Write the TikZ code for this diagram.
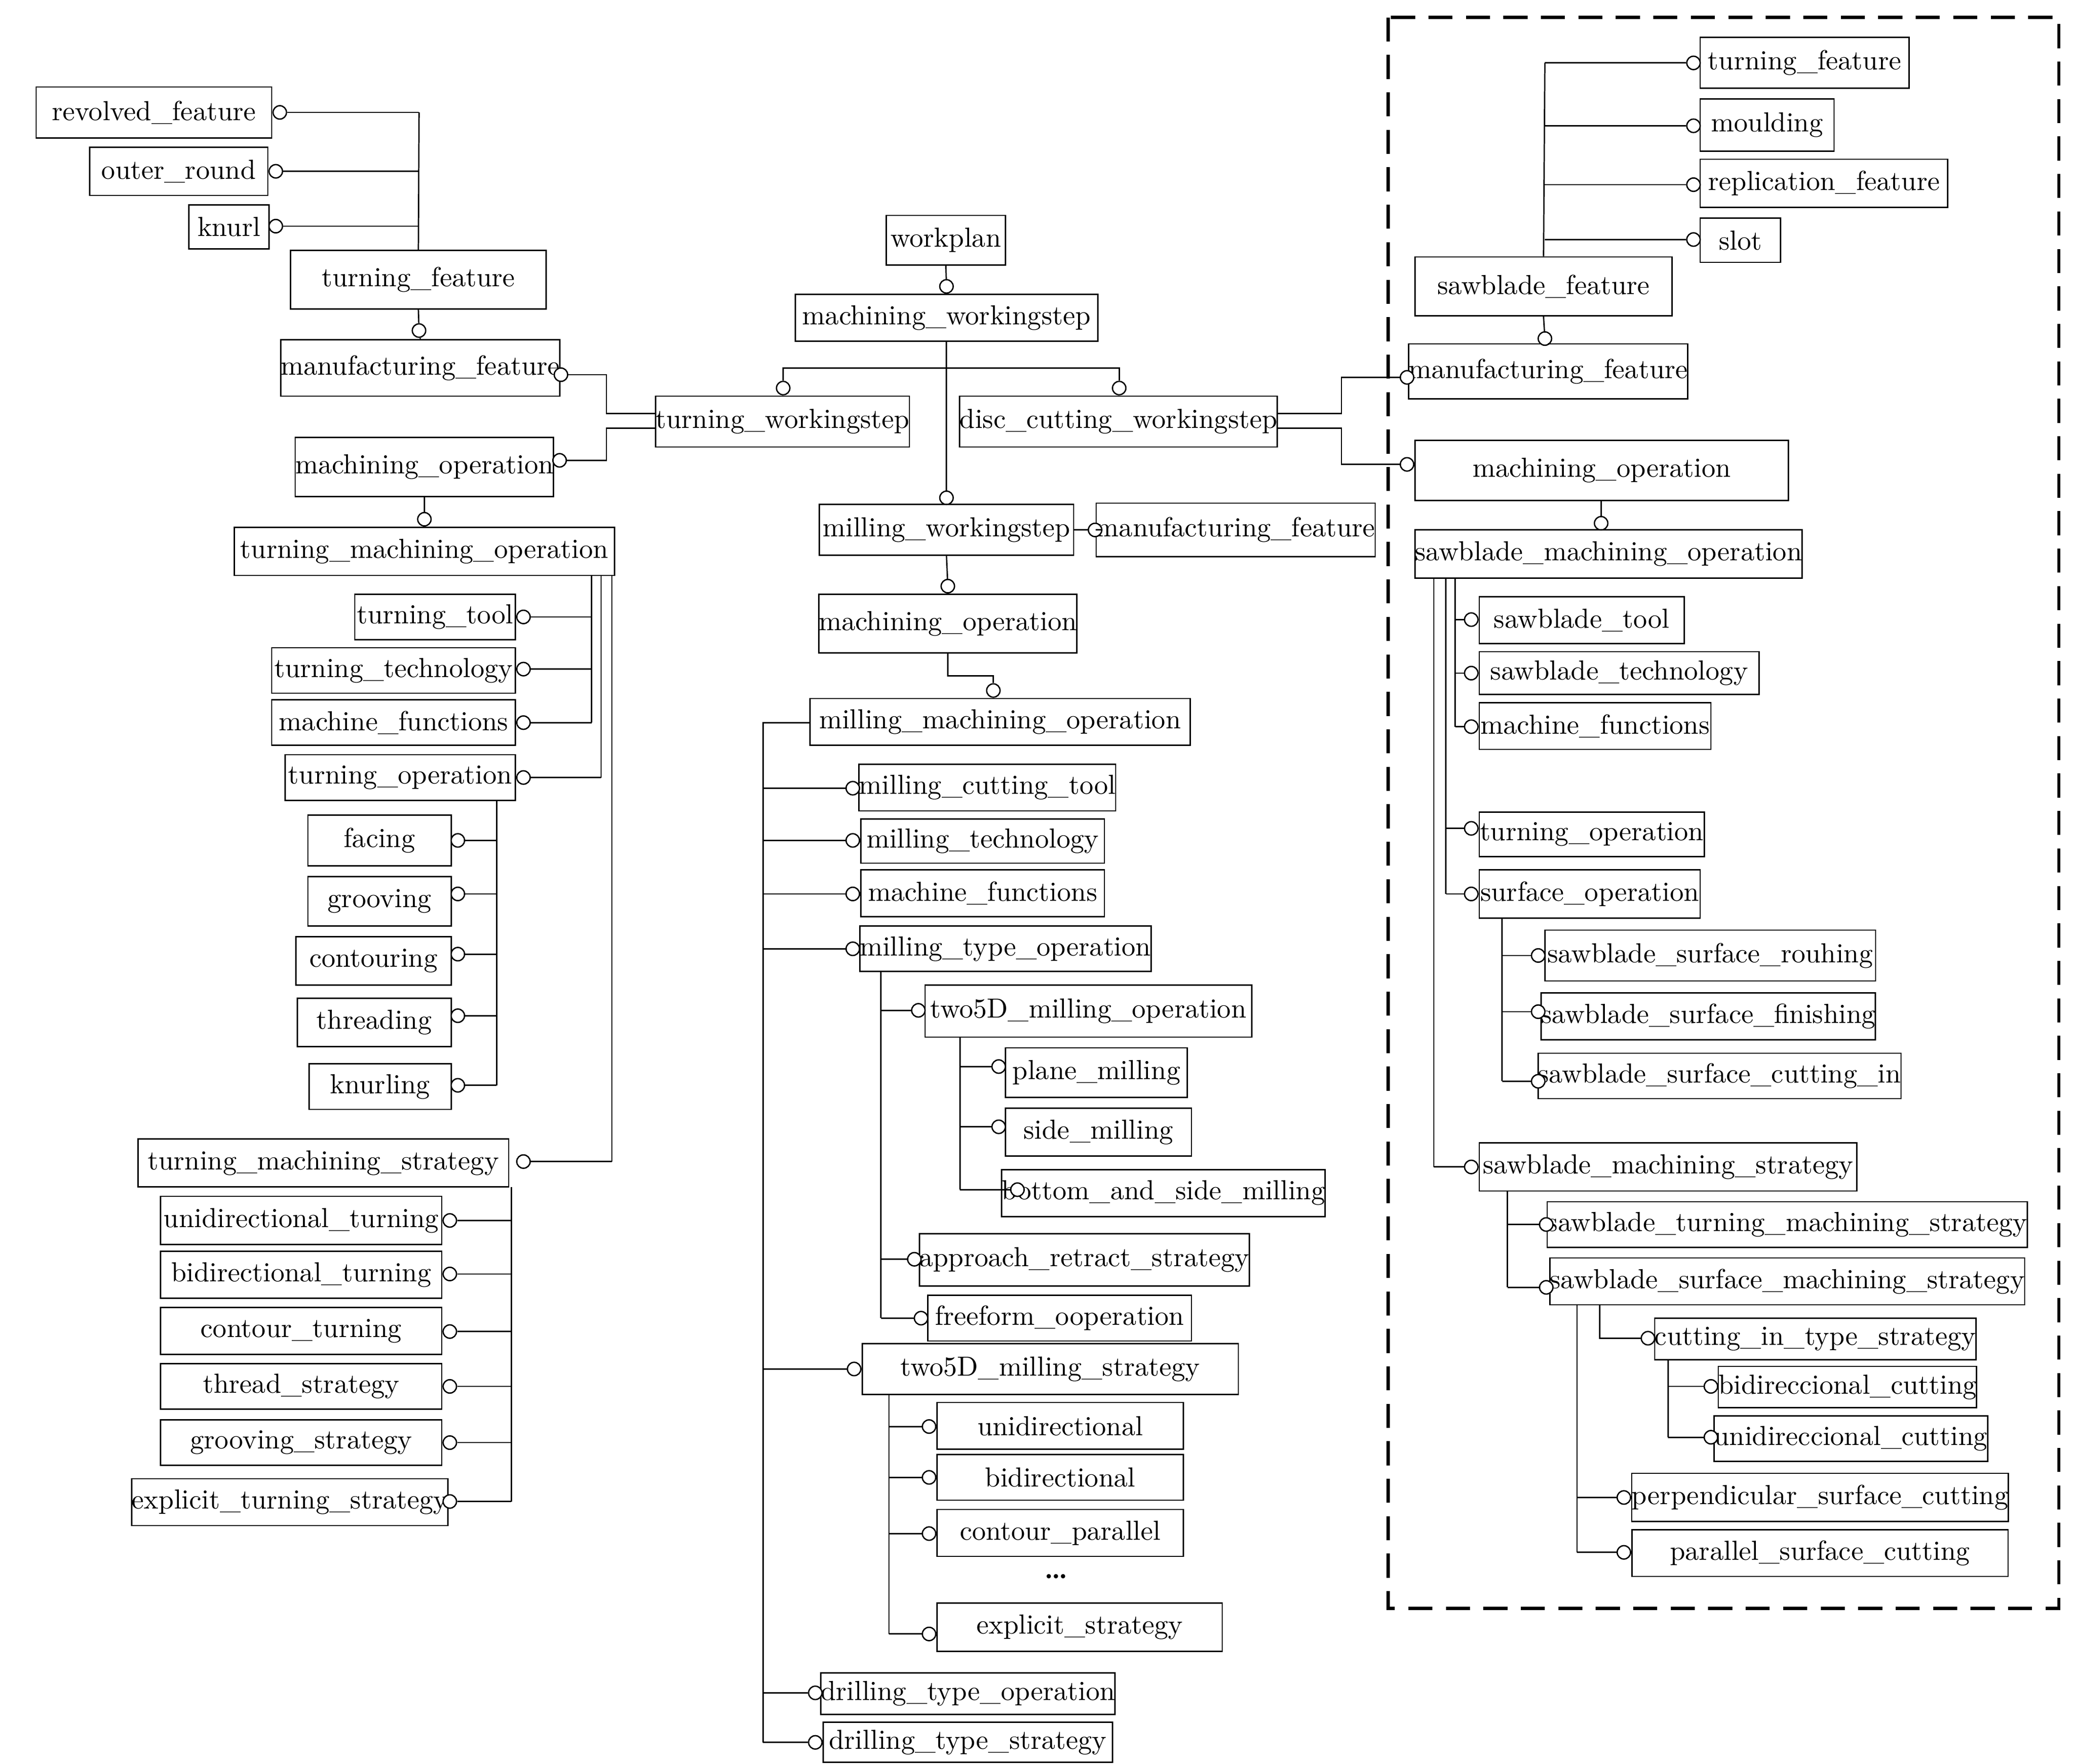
\documentclass[tikz,border=0pt]{standalone}
\begin{document}
\fontsize{10.3}{12}\selectfont
\begin{tikzpicture}[x=0.5pt,y=-0.5pt,
 box/.style={draw,line width=0.5pt,inner sep=0pt,font=\fontsize{10.3}{12}\selectfont},
 cir/.style={circle,draw,line width=0.5pt,fill=white,inner sep=0pt,minimum size=5pt},
 every path/.style={line width=0.5pt}]
\newcommand\bx[6]{\node[box,minimum width={(#3-#2)*0.5pt},minimum height={(#5-#4)*0.5pt}] (#1) at ({(#2+#3)/2},{(#4+#5)/2}) {#6};}
\newcommand\ci[3]{\node[cir] (#1) at (#2,#3) {};}
\useasboundingbox (0,0) rectangle (1550,1318);
% ---------- left
\bx{rev}{27}{203}{65}{103}{revolved\_feature}
\bx{outr}{67}{200}{110}{146}{outer\_round}
\bx{knurl}{141}{201}{153}{186}{knurl}
\bx{tfL}{217}{408}{187}{231}{turning\_feature}
\bx{mfL}{215}{413}{254}{296}{manufacturing\_feature}
\bx{moL}{222}{412}{327}{371}{machining\_operation}
\bx{tws}{490}{679}{296}{334}{turning\_workingstep}
\bx{tmo}{175}{459}{394}{430}{turning\_machining\_operation}
\bx{ttool}{265}{385}{444}{478}{turning\_tool}
\bx{ttech}{203}{385}{484}{518}{turning\_technology}
\bx{mfnL}{203}{385}{523}{557}{machine\_functions}
\bx{top}{213}{385}{564}{598}{turning\_operation}
\bx{fac}{230}{337}{609}{647}{facing}
\bx{gro}{230}{337}{655}{692}{grooving}
\bx{con}{221}{337}{700}{736}{contouring}
\bx{thr}{222}{337}{746}{782}{threading}
\bx{knu}{231}{337}{795}{829}{knurling}
\bx{tms}{103}{380}{851}{887}{turning\_machining\_strategy}
\bx{ut}{120}{330}{894}{930}{unidirectional\_turning}
\bx{bt}{120}{330}{935}{970}{bidirectional\_turning}
\bx{ct}{120}{330}{977}{1012}{contour\_turning}
\bx{ts}{120}{330}{1019}{1053}{thread\_strategy}
\bx{gs}{120}{330}{1061}{1095}{grooving\_strategy}
\bx{ets}{103}{330}{1105}{1140}{explicit\_turning\_strategy}
\ci{cRev}{209}{84}\ci{cOut}{206}{128}\ci{cKn}{206}{169}\ci{cTF}{313}{247}
\ci{cMfL}{419}{280}\ci{cMoL}{418}{344}\ci{cTmo}{317}{388}
\ci{cTt}{391}{461}\ci{cTte}{391}{500}\ci{cMfn}{391}{540}\ci{cTop}{391}{581}
\ci{cFac}{342}{628}\ci{cGro}{342}{668}\ci{cCon}{342}{713}\ci{cThr}{342}{759}\ci{cKnu}{342}{811}
\ci{cTms}{391}{868}
\ci{cUt}{336}{912}\ci{cBt}{336}{952}\ci{cCt}{336}{995}\ci{cTs}{336}{1036}\ci{cGs}{336}{1078}\ci{cEts}{336}{1122}
\draw (313,84) -- (tfL.north);
\draw (cRev) -- (313,84); \draw (cOut) -- (313,128); \draw (cKn) -- (313,169);
\draw (tfL.south) -- (cTF) -- (mfL.north);
\draw (cMfL) -- (453,280) -- (453,309) -- (tws.west|-0,309);
\draw (cMoL) -- (453,344) -- (453,320) -- (tws.west|-0,320);
\draw (moL.south) -- (cTmo) -- (tmo.north);
\draw (442,430) -- (442,540); \draw (449,430) -- (449,581); \draw (457,430) -- (457,868);
\draw (cTt) -- (442,461); \draw (cTte) -- (442,500); \draw (cMfn) -- (442,540); \draw (cTop) -- (449,581);
\draw (371,598) -- (371,811);
\foreach \c/\y in {cFac/628,cGro/668,cCon/713,cThr/759,cKnu/811} \draw (\c) -- (371,\y);
\draw (cTms) -- (457,868);
\draw (382,887) -- (382,1122);
\foreach \c/\y in {cUt/912,cBt/952,cCt/995,cTs/1036,cGs/1078,cEts/1122} \draw (\c) -- (382,\y);
% ---------- middle
\bx{wp}{662}{751}{161}{198}{workplan}
\bx{mws}{594}{820}{220}{255}{machining\_workingstep}
\bx{dcw}{724}{947}{296}{334}{disc\_cutting\_workingstep}
\bx{mlw}{612}{802}{377}{415}{milling\_workingstep}
\bx{mfM}{823}{1023}{376}{416}{manufacturing\_feature}
\bx{moM}{612}{804}{444}{488}{machining\_operation}
\bx{mmo}{605}{889}{522}{557}{milling\_machining\_operation}
\bx{mct}{643}{832}{571}{606}{milling\_cutting\_tool}
\bx{mte}{643}{825}{612}{645}{milling\_technology}
\bx{mfnM}{643}{825}{650}{685}{machine\_functions}
\bx{mto}{643}{859}{692}{726}{milling\_type\_operation}
\bx{t5o}{691}{935}{736}{775}{two5D\_milling\_operation}
\bx{pm}{751}{887}{783}{820}{plane\_milling}
\bx{sm}{751}{890}{828}{864}{side\_milling}
\bx{bsm}{753}{985}{874}{909}{bottom\_and\_side\_milling}
\bx{ars}{688}{932}{922}{961}{approach\_retract\_strategy}
\bx{ffo}{693}{890}{968}{1002}{freeform\_ooperation}
\bx{t5s}{644}{925}{1004}{1042}{two5D\_milling\_strategy}
\bx{uni}{700}{884}{1048}{1083}{unidirectional}
\bx{bid}{700}{884}{1087}{1121}{bidirectional}
\bx{cpa}{700}{884}{1128}{1163}{contour\_parallel}
\node (dots) at (789,1178) {\textbf{\dots}};
\bx{exs}{700}{913}{1198}{1234}{explicit\_strategy}
\bx{dto}{615}{831}{1250}{1281}{drilling\_type\_operation}
\bx{dts}{615}{831}{1287}{1317}{drilling\_type\_strategy}
\ci{cWp}{707}{214}\ci{cTws}{585}{290}\ci{cDcw}{836}{290}\ci{cMlw}{707}{372}
\ci{cMfM}{818}{396}\ci{cMoM}{708}{438}\ci{cMmo}{742}{516}
\ci{cMct}{637}{589}\ci{cMte}{637}{628}\ci{cMfnM}{637}{668}\ci{cMto}{637}{709}
\ci{cT5o}{686}{755}\ci{cPm}{746}{797}\ci{cSm}{746}{842}\ci{cBsm}{760}{889}
\ci{cArs}{683}{941}\ci{cFfo}{688}{985}\ci{cT5s}{638}{1023}
\ci{cUni}{694}{1066}\ci{cBid}{694}{1104}\ci{cCpa}{694}{1146}\ci{cExs}{694}{1221}
\ci{cDto}{609}{1265}\ci{cDts}{609}{1302}
\draw (wp.south) -- (cWp) -- (mws.north);
\draw (707,255) -- (cMlw) -- (mlw.north);
\draw (cTws) -- (585,275) -- (836,275) -- (cDcw);
\draw (cTws) -- (tws.north); \draw (cDcw) -- (dcw.north);
\draw (mlw.east) -- (cMfM) -- (mfM.west);
\draw (mlw.south) -- (cMoM) -- (moM.north);
\draw (708,488) -- (708,505) -- (742,505) -- (cMmo);
\draw (605,540) -- (570,540) -- (570,1302);
\foreach \c/\y in {cMct/589,cMte/628,cMfnM/668,cMto/709,cT5s/1023,cDto/1265,cDts/1302} \draw (\c) -- (570,\y);
\draw (658,726) -- (658,985);
\foreach \c/\y in {cT5o/755,cArs/941,cFfo/985} \draw (\c) -- (658,\y);
\draw (717,775) -- (717,889);
\foreach \c/\y in {cPm/797,cSm/842,cBsm/889} \draw (\c) -- (717,\y);
\draw (664,1042) -- (664,1221);
\foreach \c/\y in {cUni/1066,cBid/1104,cCpa/1146,cExs/1221} \draw (\c) -- (664,\y);
% ---------- right
\draw[line width=1.2pt,dash pattern=on 9pt off 5pt] (1037,13) rectangle (1538,1202);
\bx{tfR}{1270}{1426}{28}{66}{turning\_feature}
\bx{mou}{1270}{1370}{74}{113}{moulding}
\bx{rep}{1270}{1455}{119}{155}{replication\_feature}
\bx{slot}{1270}{1330}{163}{196}{slot}
\bx{sbf}{1057}{1249}{192}{236}{sawblade\_feature}
\bx{mfR}{1057}{1256}{257}{298}{manufacturing\_feature}
\bx{moR}{1057}{1336}{329}{374}{machining\_operation}
\bx{smo}{1059}{1344}{396}{432}{sawblade\_machining\_operation}
\bx{st}{1105}{1258}{446}{481}{sawblade\_tool}
\bx{ste}{1105}{1314}{487}{519}{sawblade\_technology}
\bx{mfnR}{1105}{1278}{525}{560}{machine\_functions}
\bx{toR}{1105}{1273}{607}{640}{turning\_operation}
\bx{so}{1105}{1270}{650}{686}{surface\_operation}
\bx{ssr}{1154}{1401}{695}{733}{sawblade\_surface\_rouhing}
\bx{ssf}{1154}{1398}{742}{777}{sawblade\_surface\_finishing}
\bx{ssc}{1154}{1415}{787}{821}{sawblade\_surface\_cutting\_in}
\bx{sms}{1105}{1387}{854}{890}{sawblade\_machining\_strategy}
\bx{stms}{1160}{1510}{898}{932}{sawblade\_turning\_machining\_strategy}
\bx{ssms}{1160}{1510}{940}{975}{sawblade\_surface\_machining\_strategy}
\bx{cits}{1237}{1475}{985}{1016}{cutting\_in\_type\_strategy}
\bx{bc}{1284}{1476}{1021}{1052}{bidireccional\_cutting}
\bx{uc}{1284}{1481}{1058}{1092}{unidireccional\_cutting}
\bx{psc}{1219}{1500}{1101}{1137}{perpendicular\_surface\_cutting}
\bx{pasc}{1219}{1500}{1143}{1178}{parallel\_surface\_cutting}
\ci{cTfR}{1265}{47}\ci{cMou}{1265}{94}\ci{cRep}{1265}{138}\ci{cSlot}{1265}{179}
\ci{cSbf}{1154}{253}\ci{cMfR}{1051}{282}\ci{cMoR}{1051}{347}\ci{cSmo}{1196}{391}
\ci{cSt}{1099}{463}\ci{cSte}{1099}{503}\ci{cMfnR}{1099}{543}\ci{cToR}{1099}{619}\ci{cSo}{1099}{668}
\ci{cSsr}{1149}{714}\ci{cSsf}{1149}{756}\ci{cSsc}{1149}{808}\ci{cSms}{1099}{872}
\ci{cStms}{1155}{915}\ci{cSsms}{1155}{962}\ci{cCits}{1231}{1000}
\ci{cBc}{1278}{1036}\ci{cUc}{1278}{1074}\ci{cPsc}{1213}{1119}\ci{cPasc}{1213}{1160}
\draw (1154,47) -- (sbf.north);
\foreach \c/\y in {cTfR/47,cMou/94,cRep/138,cSlot/179} \draw (\c) -- (1154,\y);
\draw (sbf.south) -- (cSbf) -- (mfR.north);
\draw (dcw.east|-0,309) -- (1002,309) -- (1002,282) -- (cMfR);
\draw (dcw.east|-0,320) -- (1002,320) -- (1002,347) -- (cMoR);
\draw (moR.south-|cSmo) -- (cSmo) -- (smo.north-|cSmo);
\draw (1087,432) -- (1087,543); \draw (1080,432) -- (1080,668); \draw (1071,432) -- (1071,872);
\foreach \c/\y in {cSt/463,cSte/503,cMfnR/543} \draw (\c) -- (1087,\y);
\foreach \c/\y in {cToR/619,cSo/668} \draw (\c) -- (1080,\y);
\draw (cSms) -- (1071,872);
\draw (1122,686) -- (1122,808);
\foreach \c/\y in {cSsr/714,cSsf/756,cSsc/808} \draw (\c) -- (1122,\y);
\draw (1126,890) -- (1126,962);
\foreach \c/\y in {cStms/915,cSsms/962} \draw (\c) -- (1126,\y);
\draw (1195,975) -- (1195,1000) -- (cCits);
\draw (1178,975) -- (1178,1160);
\foreach \c/\y in {cPsc/1119,cPasc/1160} \draw (\c) -- (1178,\y);
\draw (1246,1016) -- (1246,1074);
\foreach \c/\y in {cBc/1036,cUc/1074} \draw (\c) -- (1246,\y);
\end{tikzpicture}
\end{document}
